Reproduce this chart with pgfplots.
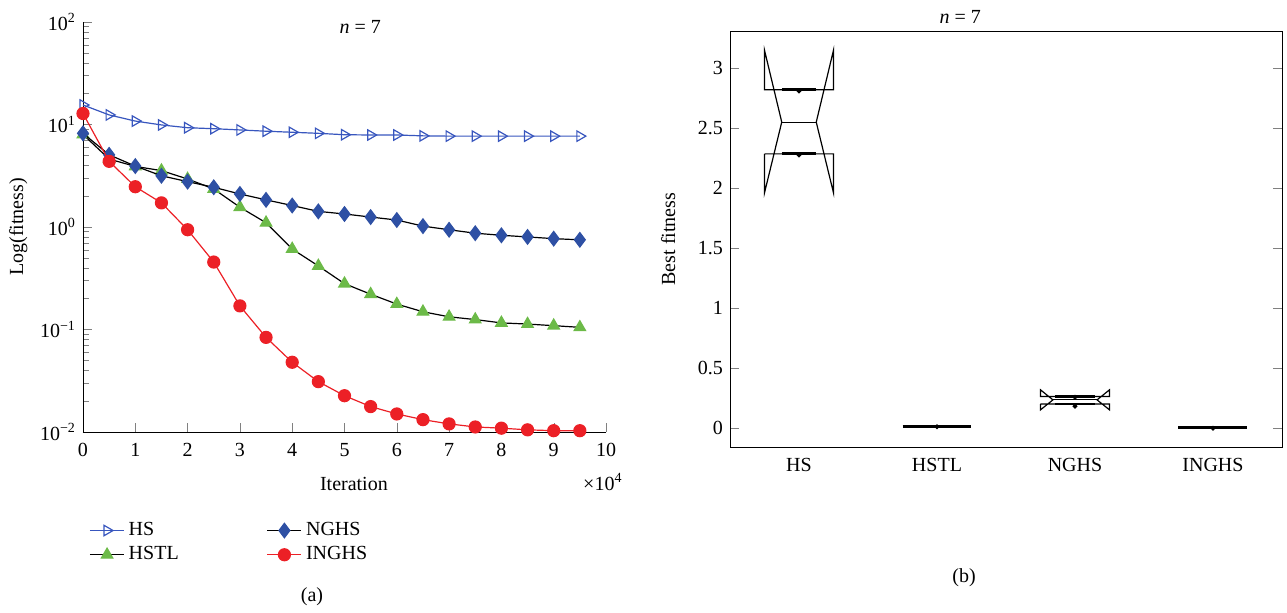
\documentclass[border=0pt]{standalone}
\usepackage{fontspec}
\setmainfont{Liberation Serif}
\usepackage{pgfplots}
\pgfplotsset{compat=1.18}
\usetikzlibrary{plotmarks}
\definecolor{hsblue}{RGB}{56,86,190}
\definecolor{ngblue}{RGB}{46,80,164}
\definecolor{hgreen}{RGB}{108,186,72}
\definecolor{ired}{RGB}{236,32,38}
\begin{document}
\begin{tikzpicture}
\path[use as bounding box] (0,0) rectangle (643.5pt,306pt);
\begin{axis}[
  at={(41.5pt,90pt)}, anchor=south west,
  scale only axis, width=261.5pt, height=205pt,
  clip mode=individual,
  ymode=log, xmin=0, xmax=10, ymin=1e-2, ymax=1e2,
  axis x line*=bottom, axis y line*=left,
  tick align=inside,
  /pgf/number format/assume math mode=true,
  xtick={0,1,2,3,4,5,6,7,8,9,10},
  ytick={1e-2,1e-1,1,1e1,1e2},
  yticklabels={10\textsuperscript{−2},10\textsuperscript{−1},10\textsuperscript{0},10\textsuperscript{1},10\textsuperscript{2}},
  xticklabel style={yshift=-2pt},
  xlabel={Iteration},
  xlabel style={at={(axis description cs:0.518,-0.127)}, anchor=center},
  ylabel={Log(fitness)},
  ylabel style={at={(axis description cs:-0.124,0.5)}, anchor=center},
  title={\textit{n} = 7},
  title style={at={(axis description cs:0.53,0.988)}, anchor=center, yshift=-6pt},
  every axis plot/.append style={line width=0.6pt},
  legend columns=2, transpose legend,
  legend cell align=left,
  legend style={at={(axis description cs:0,-0.2)}, anchor=north west, draw=none, fill=none,
    /tikz/every even column/.append style={column sep=42pt}},
]
\addplot[color=hsblue, mark=triangle, mark size=3pt, mark options={rotate=-90, solid}] coordinates {
(0,15.5)(0.5,12.4)(1,10.8)(1.5,9.9)(2,9.3)(2.5,9.1)(3,8.85)(3.5,8.6)(4,8.4)(4.5,8.2)
(5,7.95)(5.5,7.9)(6,7.9)(6.5,7.75)(7,7.7)(7.5,7.7)(8,7.7)(8.5,7.7)(9,7.7)(9.5,7.7)};
\addlegendentry{HS}
\addplot[color=black, mark=triangle*, mark size=3.3pt, mark options={fill=hgreen, draw=hgreen}] coordinates {
(0,8.0)(0.5,4.6)(1,3.9)(1.5,3.55)(2,2.94)(2.5,2.35)(3,1.56)(3.5,1.10)(4,0.61)(4.5,0.417)
(5,0.28)(5.5,0.221)(6,0.177)(6.5,0.149)(7,0.133)(7.5,0.125)(8,0.116)(8.5,0.113)(9,0.109)(9.5,0.105)};
\addlegendentry{HSTL}
\addplot[color=black, mark=diamond*, mark size=3.6pt, mark options={fill=ngblue, draw=ngblue}] coordinates {
(0,8.2)(0.5,5.06)(1,3.93)(1.5,3.16)(2,2.77)(2.5,2.44)(3,2.10)(3.5,1.84)(4,1.62)(4.5,1.42)
(5,1.34)(5.5,1.25)(6,1.17)(6.5,1.02)(7,0.94)(7.5,0.87)(8,0.83)(8.5,0.80)(9,0.77)(9.5,0.75)};
\addlegendentry{NGHS}
\addplot[color=ired, mark=*, mark size=3pt, mark options={fill=ired, draw=ired}] coordinates {
(0,12.8)(0.5,4.37)(1,2.47)(1.5,1.72)(2,0.94)(2.5,0.455)(3,0.170)(3.5,0.0838)(4,0.0479)(4.5,0.031)
(5,0.0226)(5.5,0.0177)(6,0.0150)(6.5,0.0132)(7,0.0120)(7.5,0.0112)(8,0.0109)(8.5,0.0105)(9,0.0103)(9.5,0.0103)};
\addlegendentry{INGHS}
\node at (axis description cs:0.994,-0.122) {×10\textsuperscript{4}};
\end{axis}

\begin{axis}[
  at={(365pt,82.5pt)}, anchor=south west,
  scale only axis, width=276pt, height=208pt,
  xmin=0.5, xmax=4.5, ymin=-0.16, ymax=3.31,
  xtick={1,2,3,4}, xticklabels={HS,HSTL,NGHS,INGHS},
  ytick={0,0.5,1,1.5,2,2.5,3},
  yticklabels={0,0.5,1,1.5,2,2.5,3},
  tick align=inside,
  major x tick style={draw=none},
  xticklabel style={yshift=-2pt},
  ylabel={Best fitness},
  ylabel style={at={(axis description cs:-0.112,0.5)}, anchor=center},
  title={\textit{n} = 7},
  title style={at={(axis description cs:0.417,1.033)}, anchor=center, yshift=-6pt},
  every axis plot/.append style={line width=0.6pt, black},
]
% HS notched box
\addplot[mark=none] coordinates {(0.75,2.285)(0.75,1.96)(0.875,2.55)(0.75,3.15)(0.75,2.82)(1.25,2.82)(1.25,3.15)(1.125,2.55)(1.25,1.96)(1.25,2.285)(0.75,2.285)};
\addplot[mark=none] coordinates {(0.875,2.55)(1.125,2.55)};
\addplot[mark=none, line width=1.4pt] coordinates {(0.875,2.82)(1.125,2.82)};
\addplot[mark=none, line width=1.4pt] coordinates {(0.875,2.285)(1.125,2.285)};
\addplot[only marks, mark=*, mark size=0.9pt] coordinates {(1,2.81)(1,2.275)};
% HSTL
\addplot[mark=none, line width=1.4pt] coordinates {(1.75,0.011)(2.25,0.011)};
\addplot[only marks, mark=*, mark size=0.9pt] coordinates {(2,0.009)};
% NGHS notched box
\addplot[mark=none] coordinates {(2.75,0.198)(2.75,0.15)(2.84,0.233)(2.75,0.317)(2.75,0.261)(3.25,0.261)(3.25,0.317)(3.16,0.233)(3.25,0.15)(3.25,0.198)(2.75,0.198)};
\addplot[mark=none] coordinates {(2.84,0.233)(3.16,0.233)};
\addplot[mark=none, line width=1.4pt] coordinates {(2.855,0.261)(3.145,0.261)};
\addplot[mark=none, line width=1.4pt] coordinates {(2.855,0.198)(3.145,0.198)};
\addplot[only marks, mark=*, mark size=0.9pt] coordinates {(3,0.255)(3,0.18)};
% INGHS
\addplot[mark=none, line width=1.4pt] coordinates {(3.75,0.0)(4.25,0.0)};
\addplot[only marks, mark=*, mark size=0.9pt] coordinates {(4,-0.003)};
\end{axis}
\node at (156pt,7.5pt) {(a)};
\node at (482pt,17pt) {(b)};
\end{tikzpicture}
\end{document}
